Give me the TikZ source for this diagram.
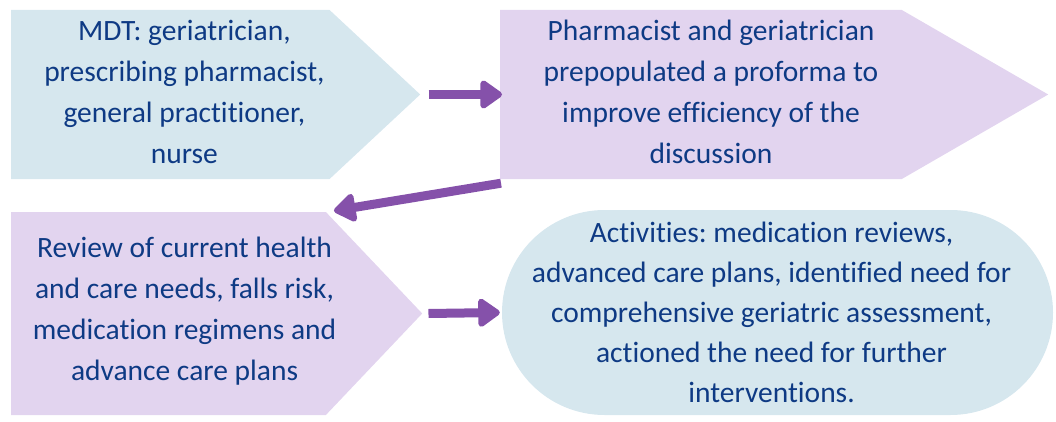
\documentclass[tikz,border=0pt]{standalone}
\usepackage{fontspec}
\setmainfont{Carlito}[Ligatures=NoCommon]
\usetikzlibrary{shapes.symbols,shapes.misc,arrows.meta}
\definecolor{paleblue}{HTML}{D6E7EE}
\definecolor{palelilac}{HTML}{E2D4EF}
\definecolor{arrowpurple}{HTML}{8551AA}
\definecolor{inkblue}{HTML}{0E3A84}
\frenchspacing
\begin{document}
\begin{tikzpicture}[x=1pt,y=-1pt,
  box/.style={signal, signal to=east, draw=none, inner sep=0pt, anchor=west},
  oval/.style={rounded rectangle, draw=none, fill=paleblue, inner sep=0pt},
  txt/.style={align=center, inner sep=0pt, text=inkblue, font=\fontsize{29.5}{41}\selectfont},
  flow/.style={arrowpurple, line width=9pt, -{Triangle[width=32pt,length=24pt,round]}}]
\useasboundingbox (0,0) rectangle (1056,422);
\node [box, fill=paleblue, signal pointer angle=86, minimum width=409pt, minimum height=169pt] (mdt) at (11,94.5) {};
\node [box, fill=palelilac, signal pointer angle=60, minimum width=548pt, minimum height=169pt] (proforma) at (500,94.5) {};
\node [box, fill=palelilac, signal pointer angle=93, minimum width=411pt, minimum height=203pt] (review) at (11,313.5) {};
\node [oval, minimum width=551pt, minimum height=205pt] (activities) at (777.5,312.5) {};
\node [txt] (mdttext) at ([shift={(14,-3)}]mdt.center) {MDT: geriatrician,\\prescribing pharmacist,\\general practitioner,\\nurse};
\node [txt] (proformatext) at ([shift={(10,-3)}]proforma.center) {Pharmacist and geriatrician\\prepopulated a proforma to\\improve efficiency of the\\discussion};
\node [txt] (reviewtext) at ([shift={(16,-2)}]review.center) {Review of current health\\and care needs, falls risk,\\medication regimens and\\advance care plans};
\node [txt, font=\fontsize{29.5}{40}\selectfont] (activitiestext) at ([shift={(-6,0)}]activities.center) {Activities: medication reviews,\\advanced care plans, identified need for\\comprehensive geriatric assessment,\\actioned the need for further\\interventions.};
\draw [flow] ([xshift=8pt]mdt.east) -- ([xshift=2pt]proforma.west);
\draw [flow] ([shift={(1,4)}]proforma.south west) -- ([shift={(8,-1)}]review.north east);
\draw [flow] ([xshift=6pt]review.east) -- ([xshift=-2pt]activities.west);
\end{tikzpicture}
\end{document}
